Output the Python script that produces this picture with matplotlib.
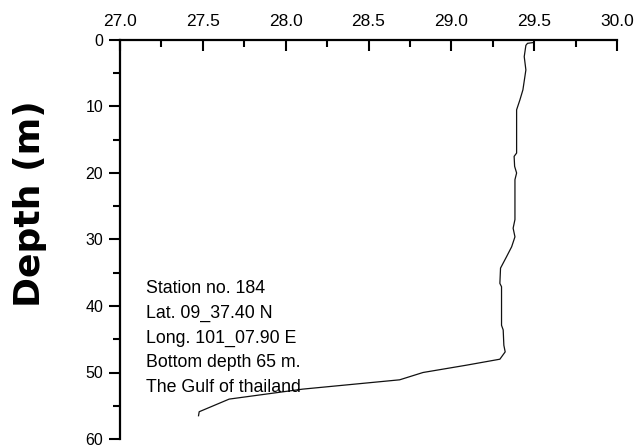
import matplotlib
matplotlib.use("Agg")
import matplotlib.pyplot as plt
from matplotlib.ticker import MultipleLocator

temperature = [29.49, 29.46, 29.45, 29.44, 29.45, 29.432, 29.414, 29.394, 29.394, 29.394,
               29.379, 29.382, 29.394, 29.384, 29.384, 29.373, 29.384, 29.364, 29.333,
               29.297, 29.293, 29.303, 29.303, 29.313, 29.317, 29.325, 29.293, 29.091,
               28.829, 28.688, 28.103, 27.659, 27.478, 27.474]
depth = [0.4, 0.5, 0.8, 2.5, 4.5, 7.5, 9.0, 10.5, 16.5, 17.0,
         17.5, 19.0, 20.0, 21.0, 27.0, 28.3, 29.6, 31.1, 32.6,
         34.3, 36.6, 37.1, 42.9, 43.6, 45.9, 46.9, 48.0, 48.9,
         50.0, 51.1, 52.5, 54.0, 55.9, 56.5]

info_lines = ["Station no. 184", "Lat. 09_37.40 N", "Long. 101_07.90 E",
              "Bottom depth 65 m.", "The Gulf of thailand"]
x_ticks = [27.0, 27.5, 28.0, 28.5, 29.0, 29.5, 30.0]
y_ticks = [0, 10, 20, 30, 40, 50, 60]

plt.rcParams['font.family'] = ['Liberation Sans', 'DejaVu Sans']

fig = plt.figure(figsize=(6.4, 4.47), dpi=100)
ax = fig.add_axes([120/640, 1 - 439/447, (617-120)/640, (439-40)/447])

ax.plot(temperature, depth, color='#111111', linewidth=0.9)

ax.set_xlim(27.0, 30.0)
ax.set_ylim(60, 0)
ax.xaxis.tick_top()
ax.set_xticks(x_ticks)
ax.set_xticklabels([f"{v:.1f}" for v in x_ticks])
ax.xaxis.set_minor_locator(MultipleLocator(0.25))
ax.set_yticks(y_ticks)
ax.yaxis.set_minor_locator(MultipleLocator(5))

ax.tick_params(axis='x', which='major', direction='in', length=8, width=1.5,
               labelsize=12.5, pad=8, top=True, bottom=False)
ax.tick_params(axis='x', which='minor', direction='in', length=5, width=1.5,
               top=True, bottom=False)
ax.tick_params(axis='y', which='major', direction='out', length=8, width=1.5,
               labelsize=11.5, pad=4)
ax.tick_params(axis='y', which='minor', direction='out', length=5, width=1.5)

for s in ['right', 'bottom']:
    ax.spines[s].set_visible(False)
for s in ['top', 'left']:
    ax.spines[s].set_linewidth(1.6)

for i, line in enumerate(info_lines):
    ax.text(146/640, 1 - (293 + i*24.7)/447, line, transform=fig.transFigure,
            fontsize=12.8, ha='left', va='baseline')

fig.text(30/640, 1 - 204/447, "Depth (m)", rotation=90, ha='center', va='center',
         fontsize=26, fontweight='bold', family=['DejaVu Sans'])

fig.savefig("out.png", dpi=100)
